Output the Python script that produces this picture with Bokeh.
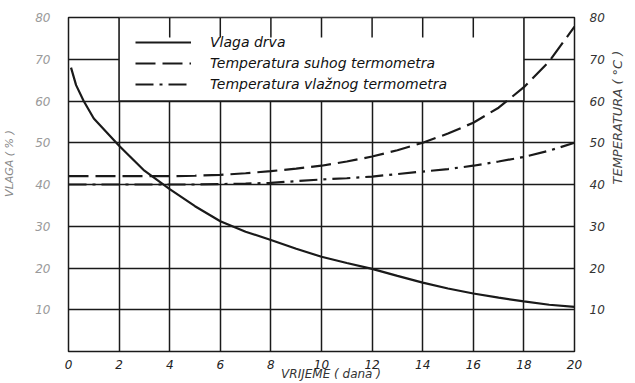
from math import pi
from bokeh.plotting import figure
from bokeh.models import Range1d, LinearAxis, FixedTicker, Legend, LegendItem
from bokeh.embed import file_html
from bokeh.resources import INLINE

# ---- data ----
x_ticks = [0, 2, 4, 6, 8, 10, 12, 14, 16, 18, 20]
y_ticks = [10, 20, 30, 40, 50, 60, 70, 80]

vlaga_days = [0.1, 0.3, 0.6, 1, 2, 3, 4, 5, 6, 7, 8, 9, 10, 11, 12, 13, 14, 15, 16, 17, 18, 19, 20]
vlaga_drva = [68, 63.8, 60, 55.8, 49.3, 43.3, 38.9, 34.8, 31.2, 28.7, 26.7, 24.6, 22.7, 21.2, 19.8,
              18.1, 16.5, 15.1, 13.9, 12.9, 12.0, 11.2, 10.7]

temp_days = [0, 1, 2, 3, 4, 5, 6, 7, 8, 9, 10, 11, 12, 13, 14, 15, 16, 17, 18, 19, 20]
temp_suhi = [42, 42, 42, 42, 42, 42.1, 42.3, 42.7, 43.2, 43.8, 44.5, 45.5, 46.7, 48.2, 50.0,
             52.2, 54.8, 58.4, 63.3, 69.5, 77.8]
temp_vlazni = [40, 40, 40, 40, 40, 40, 40.1, 40.2, 40.4, 40.8, 41.2, 41.5, 41.9, 42.5, 43.1,
               43.7, 44.5, 45.5, 46.6, 48.1, 50.0]

legend_labels = ["Vlaga drva", "Temperatura suhog termometra", "Temperatura vlažnog termometra"]
x_title = "VRIJEME ( dana )"
left_title = "VLAGA ( % )"
right_title = "TEMPERATURA ( °C )"

FONT = "DejaVu Sans"
INK = "#1a1a1a"
NB = "\u00a0"

p = figure(width=635, height=383, x_range=Range1d(0, 20), y_range=Range1d(0, 80),
           output_backend="svg", toolbar_location=None,
           min_border_left=65, min_border_right=61, min_border_top=17, min_border_bottom=26,
           background_fill_color="white", border_fill_color="white",
           outline_line_color=INK, outline_line_width=1.5)
p.extra_y_ranges = {"temp": Range1d(0, 80)}
p.add_layout(LinearAxis(y_range_name="temp"), "right")

# grid
p.xgrid.ticker = FixedTicker(ticks=x_ticks)
p.ygrid.ticker = FixedTicker(ticks=y_ticks)
for g in (p.xgrid, p.ygrid):
    g.grid_line_color = INK
    g.grid_line_width = 1.5

# axes
for ax in p.axis:
    ax.axis_line_color = None
    ax.major_tick_line_color = None
    ax.minor_tick_line_color = None
    ax.major_label_text_font = FONT
    ax.major_label_text_font_style = "italic"
    ax.major_label_text_font_size = "12px"
    ax.axis_label_text_font = FONT
    ax.axis_label_text_font_style = "italic"
p.xaxis.ticker = x_ticks
p.xaxis.major_label_standoff = 2
p.xaxis.major_label_text_color = "#222222"
p.xaxis.axis_label = NB * 5 + x_title
p.xaxis.axis_label_standoff = -5
p.xaxis.axis_label_text_font_size = "12px"
p.xaxis.axis_label_text_color = "#333333"
for ax in p.yaxis:
    ax.ticker = y_ticks
left, right = p.yaxis[0], p.yaxis[1]
left.major_label_standoff = 12
left.major_label_text_color = "#9a9a9a"
left.axis_label = NB * 12 + left_title
left.axis_label_standoff = 16
left.axis_label_text_font_size = "11px"
left.axis_label_text_color = "#888888"
right.major_label_standoff = 9
right.major_label_text_color = "#333333"
right.axis_label = right_title
right.axis_label_orientation = pi / 2
right.axis_label_standoff = 10
right.axis_label_text_font_size = "13px"
right.axis_label_text_color = "#444444"

# legend panel: white box over the top grid cells, with short tick stubs on the top edge
p.quad(left=[x_ticks[1]], right=[x_ticks[-2]], bottom=[y_ticks[5]], top=[y_ticks[7]],
       fill_color="white", line_color=INK, line_width=1.5)
stub_x = x_ticks[2:-2]
p.segment(x0=stub_x, y0=[80] * len(stub_x), x1=stub_x, y1=[75.2] * len(stub_x),
          line_color=INK, line_width=1.5)

# curves
r1 = p.line(vlaga_days, vlaga_drva, line_color=INK, line_width=2.2)
r2 = p.line(temp_days, temp_suhi, line_color=INK, line_width=2.2, line_dash="20 7",
            y_range_name="temp")
r3 = p.line(temp_days, temp_vlazni, line_color=INK, line_width=2.2, line_dash="18 6 3 6",
            y_range_name="temp")

legend = Legend(items=[LegendItem(label=legend_labels[0], renderers=[r1]),
                       LegendItem(label=legend_labels[1], renderers=[r2]),
                       LegendItem(label=legend_labels[2], renderers=[r3])],
                location=(67, 257), padding=0, margin=0, spacing=1,
                glyph_width=56, glyph_height=20, label_height=20, label_standoff=19,
                background_fill_alpha=0, border_line_alpha=0,
                label_text_font=FONT, label_text_font_style="italic",
                label_text_font_size="14px", label_text_color="#111111")
p.add_layout(legend)

open("out.html", "w").write(file_html(p, INLINE))
